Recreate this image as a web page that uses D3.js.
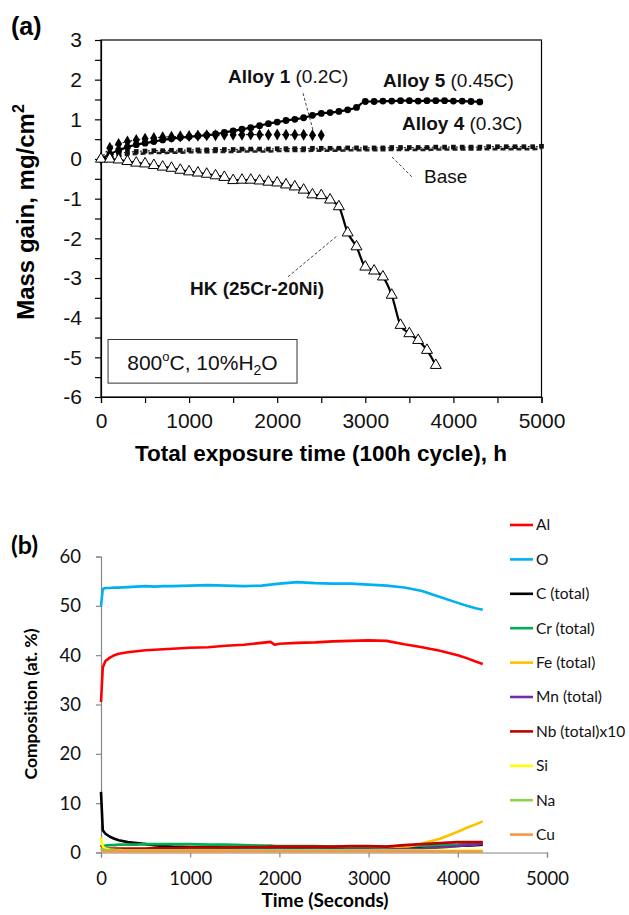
<!DOCTYPE html>
<html>
<head>
<meta charset="utf-8">
<script src="https://cdn.jsdelivr.net/npm/d3@7"></script>
<style>
  body { margin: 0; background: #fff; }
  svg { display: block; }
  .ta text { font-family: "Liberation Sans", Arial, sans-serif; }
  .tb text { font-family: Lato, "Open Sans", sans-serif; }
</style>
</head>
<body>
<script>
// ---- (a) mass gain data, every 100 h cycle ----
const hk = [0, 0, -0.02, -0.06, -0.1, -0.12, -0.16, -0.2, -0.23, -0.28,
  -0.32, -0.35, -0.38, -0.42, -0.46, -0.54, -0.53, -0.53, -0.55, -0.58,
  -0.6, -0.65, -0.7, -0.78, -0.9, -0.92, -1.03, -1.2, -1.86, -2.21,
  -2.72, -2.82, -2.97, -3.43, -4.19, -4.4, -4.57, -4.82, -5.2];
const alloy5 = [0, 0.12, 0.22, 0.3, 0.36, 0.4, 0.44, 0.48, 0.51, 0.54,
  0.56, 0.58, 0.6, 0.63, 0.67, 0.71, 0.75, 0.79, 0.84, 0.89,
  0.93, 0.97, 1.0, 1.04, 1.1, 1.15, 1.17, 1.2, 1.24, 1.3,
  1.45, 1.45, 1.46, 1.46, 1.47, 1.47, 1.46, 1.47, 1.47, 1.47,
  1.46, 1.46, 1.45, 1.44];
const alloy1 = [0, 0.28, 0.38, 0.44, 0.48, 0.51, 0.53, 0.55, 0.56, 0.57,
  0.58, 0.59, 0.6, 0.6, 0.61, 0.61, 0.61, 0.62, 0.61, 0.61,
  0.62, 0.61, 0.61, 0.61, 0.6, 0.6];
const alloy4 = [0, 0.1, 0.14, 0.17, 0.19, 0.2, 0.21, 0.21, 0.22, 0.22,
  0.23, 0.23, 0.23, 0.24, 0.24, 0.24, 0.25, 0.25, 0.25, 0.25,
  0.26, 0.26, 0.26, 0.26, 0.27, 0.27, 0.27, 0.27, 0.28, 0.28,
  0.28, 0.28, 0.28, 0.29, 0.29, 0.29, 0.29, 0.29, 0.3, 0.3,
  0.3, 0.3, 0.3, 0.3, 0.31, 0.31, 0.31, 0.31, 0.31, 0.31, 0.32];
const base = [0, 0.04, 0.08, 0.11, 0.13, 0.14, 0.15, 0.15, 0.16, 0.16,
  0.17, 0.17, 0.17, 0.18, 0.18, 0.18, 0.19, 0.19, 0.19, 0.19,
  0.2, 0.2, 0.2, 0.2, 0.21, 0.21, 0.21, 0.21, 0.22, 0.22,
  0.22, 0.22, 0.22, 0.23, 0.23, 0.23, 0.23, 0.23, 0.24, 0.24,
  0.24, 0.24, 0.24, 0.24, 0.25, 0.25, 0.25, 0.25, 0.25, 0.25, 0.26];

// ---- (b) depth profile data ----
const timeB = [0, 20, 50, 100, 150, 200, 300, 400, 500, 600, 700, 800, 1000,
  1200, 1400, 1600, 1800, 1900, 1950, 2000, 2200, 2400, 2600, 2800, 3000,
  3200, 3400, 3600, 3800, 4000, 4100, 4200, 4280];
const elemNames = ["Al", "O", "C (total)", "Cr (total)", "Fe (total)",
  "Mn (total)", "Nb (total)x10", "Si", "Na", "Cu"];
const elemColors = ["#ff0000", "#00b0f0", "#000000", "#00b050", "#ffc000",
  "#7030a0", "#c00000", "#ffff00", "#92d050", "#f79646"];
const al = [30.5, 37.5, 38.8, 39.5, 40, 40.3, 40.6, 40.8, 41, 41.1, 41.2, 41.3, 41.5,
  41.6, 41.9, 42.1, 42.5, 42.7, 42.1, 42.3, 42.5, 42.6, 42.8, 42.9, 43,
  42.9, 42.2, 41.6, 40.9, 40.0, 39.4, 38.7, 38.2];
const ox = [50, 53.4, 53.6, 53.6, 53.7, 53.7, 53.8, 53.9, 54, 53.9, 54, 54, 54.1,
  54.2, 54.1, 54, 54.1, 54.3, 54.4, 54.5, 54.8, 54.6, 54.5, 54.5, 54.3,
  54.1, 53.7, 53.0, 51.8, 50.6, 50.0, 49.5, 49.2];
const carbon = [12.3, 4.5, 3.8, 3.2, 2.8, 2.5, 2.1, 1.9, 1.7, 1.5, 1.3, 1.2, 1.1,
  1.1, 1.0, 1.0, 1.0, 1.0, 1.0, 1.0, 1.0, 1.0, 1.0, 1.0, 1.0,
  1.0, 1.1, 1.2, 1.3, 1.4, 1.4, 1.5, 1.6];
const cr = [1.0, 1.2, 1.4, 1.5, 1.5, 1.6, 1.6, 1.6, 1.7, 1.7, 1.7, 1.7, 1.7,
  1.6, 1.6, 1.5, 1.4, 1.4, 1.3, 1.3, 1.3, 1.3, 1.2, 1.2, 1.2,
  1.2, 1.3, 1.4, 1.5, 1.6, 1.7, 1.8, 1.9];
const fe = [0.5, 0.6, 0.5, 0.4, 0.4, 0.4, 0.4, 0.4, 0.4, 0.4, 0.4, 0.4, 0.4,
  0.4, 0.4, 0.4, 0.4, 0.4, 0.4, 0.4, 0.4, 0.4, 0.4, 0.5, 0.5,
  0.7, 1.0, 1.8, 2.8, 4.2, 5.0, 5.7, 6.3];
const mn = [0.5, 0.6, 0.6, 0.6, 0.6, 0.6, 0.6, 0.6, 0.6, 0.6, 0.6, 0.6, 0.6,
  0.6, 0.6, 0.6, 0.6, 0.5, 0.6, 0.6, 0.5, 0.6, 0.5, 0.6, 0.6,
  0.6, 0.7, 0.8, 1.0, 1.3, 1.5, 1.6, 1.8];
const nb = [1.5, 1.0, 0.8, 0.8, 0.8, 0.8, 0.8, 0.8, 0.8, 0.9, 0.9, 0.9, 1.0,
  1.0, 1.0, 1.1, 1.1, 1.2, 1.2, 1.2, 1.2, 1.2, 1.2, 1.3, 1.3,
  1.2, 1.5, 1.7, 1.9, 2.1, 2.1, 2.1, 2.1];
const si = [3.0, 1.2, 0.8, 0.6, 0.5, 0.5, 0.4, 0.4, 0.4, 0.4, 0.4, 0.4, 0.4,
  0.4, 0.4, 0.4, 0.4, 0.4, 0.4, 0.4, 0.4, 0.4, 0.4, 0.4, 0.4,
  0.4, 0.4, 0.4, 0.4, 0.4, 0.4, 0.4, 0.4];
const na = [0.8, 0.6, 0.5, 0.5, 0.5, 0.4, 0.4, 0.4, 0.4, 0.4, 0.4, 0.4, 0.4,
  0.4, 0.4, 0.4, 0.4, 0.4, 0.4, 0.4, 0.4, 0.4, 0.4, 0.4, 0.4,
  0.4, 0.3, 0.3, 0.2, 0.2, 0.2, 0.2, 0.2];
const cu = [0.2, 0.2, 0.2, 0.2, 0.2, 0.2, 0.2, 0.2, 0.2, 0.2, 0.2, 0.2, 0.2,
  0.2, 0.2, 0.2, 0.2, 0.2, 0.2, 0.2, 0.2, 0.2, 0.2, 0.2, 0.2,
  0.2, 0.2, 0.2, 0.2, 0.2, 0.2, 0.2, 0.2];
const elemValues = [al, ox, carbon, cr, fe, mn, nb, si, na, cu];

const W = 629, H = 915;
const svg = d3.select("body").append("svg").attr("width", W).attr("height", H);

// every 100h cycle
function cycles(vals) {
  return vals.map((v, i) => ({x: i * 100, y: v}));
}

/* ========== (a) ========== */
const ga = svg.append("g").attr("class", "ta");
const xA = d3.scaleLinear().domain([0, 5000]).range([101, 541.5]);
const yA = d3.scaleLinear().domain([-6, 3]).range([397, 40]);

ga.append("rect")
  .attr("x", xA(0)).attr("y", yA(3))
  .attr("width", xA(5000) - xA(0)).attr("height", yA(-6) - yA(3))
  .attr("fill", "none").attr("stroke", "#000").attr("stroke-width", 1.2);

const xAxisA = d3.axisBottom(xA)
  .tickValues(d3.range(0, 5001, 500))
  .tickSize(6).tickPadding(10)
  .tickFormat(d => d % 1000 === 0 ? d : "");
ga.append("g").attr("transform", "translate(0," + yA(-6) + ")").call(xAxisA);

const yAxisA = d3.axisLeft(yA)
  .tickValues(d3.range(-6, 3.001, 0.5))
  .tickSize(6).tickPadding(13)
  .tickFormat(d => Number.isInteger(d) ? d : "");
ga.append("g").attr("transform", "translate(" + xA(0) + ",0)").call(yAxisA);

ga.selectAll(".domain, .tick line").attr("stroke", "#000").attr("stroke-width", 1.2);
ga.selectAll(".tick text").attr("font-size", 21).attr("fill", "#111");

// leader lines (data units)
const leaders = [
  [[2293, 1.66], [2406, 0.73]],
  [[3303, 0.05], [3541, -0.48]],
  [[2122, -2.97], [2690, -1.92]]
];
leaders.forEach(l => {
  ga.append("line")
    .attr("x1", xA(l[0][0])).attr("y1", yA(l[0][1]))
    .attr("x2", xA(l[1][0])).attr("y2", yA(l[1][1]))
    .attr("stroke", "#444").attr("stroke-width", 1)
    .attr("stroke-dasharray", "3,2");
});

const lineA = d3.line().x(d => xA(d.x)).y(d => yA(d.y)).curve(d3.curveMonotoneX);

// Base: dashed
ga.append("path").datum(cycles(base)).attr("d", lineA)
  .attr("fill", "none").attr("stroke", "#222").attr("stroke-width", 2.6)
  .attr("stroke-dasharray", "5,3");
// Alloy 4: dotted with small squares
ga.append("path").datum(cycles(alloy4)).attr("d", lineA)
  .attr("fill", "none").attr("stroke", "#222").attr("stroke-width", 1.2)
  .attr("stroke-dasharray", "2,2");
ga.selectAll(".a4").data(cycles(alloy4)).enter().append("path")
  .attr("transform", d => "translate(" + xA(d.x) + "," + yA(d.y) + ")")
  .attr("d", d3.symbol(d3.symbolSquare, 22)).attr("fill", "#111");
// Alloy 1: dotted with diamonds
ga.append("path").datum(cycles(alloy1)).attr("d", lineA)
  .attr("fill", "none").attr("stroke", "#222").attr("stroke-width", 1.2)
  .attr("stroke-dasharray", "2,2");
ga.selectAll(".a1").data(cycles(alloy1)).enter().append("path")
  .attr("transform", d => "translate(" + xA(d.x) + "," + yA(d.y) + ")")
  .attr("d", d3.symbol(d3.symbolDiamond, 42)).attr("fill", "#000");
// Alloy 5: solid with circles
ga.append("path").datum(cycles(alloy5)).attr("d", lineA)
  .attr("fill", "none").attr("stroke", "#000").attr("stroke-width", 2.2);
ga.selectAll(".a5").data(cycles(alloy5)).enter().append("circle")
  .attr("cx", d => xA(d.x)).attr("cy", d => yA(d.y)).attr("r", 3.4)
  .attr("fill", "#000");
// HK: solid with open triangles
ga.append("path").datum(cycles(hk)).attr("d", lineA)
  .attr("fill", "none").attr("stroke", "#000").attr("stroke-width", 2.2);
ga.selectAll(".hk").data(cycles(hk)).enter().append("path")
  .attr("transform", d => "translate(" + xA(d.x) + "," + yA(d.y) + ")")
  .attr("d", d3.symbol(d3.symbolTriangle, 52)).attr("fill", "#fff")
  .attr("stroke", "#000").attr("stroke-width", 1);

// series labels
function seriesLabel(t, v, bold, rest) {
  const tx = ga.append("text").attr("x", xA(t)).attr("y", yA(v))
    .attr("font-size", 19).attr("fill", "#111");
  tx.append("tspan").attr("font-weight", "bold").text(bold);
  if (rest) tx.append("tspan").text(rest);
}
seriesLabel(1441, 1.92, "Alloy 1", " (0.2C)");
seriesLabel(3200, 1.82, "Alloy 5", " (0.45C)");
seriesLabel(3416, 0.72, "Alloy 4", " (0.3C)");
seriesLabel(3666, -0.6, "", "Base");
seriesLabel(1010, -3.43, "HK (25Cr-20Ni)", "");

// condition box
ga.append("rect")
  .attr("x", xA(80)).attr("y", yA(-4.55))
  .attr("width", xA(2225) - xA(80)).attr("height", yA(-5.65) - yA(-4.55))
  .attr("fill", "#fff").attr("stroke", "#333").attr("stroke-width", 1);
const cond = ga.append("text").attr("x", xA(1152)).attr("y", yA(-5.33))
  .attr("text-anchor", "middle").attr("font-size", 21).attr("fill", "#111");
cond.append("tspan").text("800");
cond.append("tspan").attr("font-size", 13).attr("dy", -9).text("o");
cond.append("tspan").attr("dy", 9).text("C, 10%H");
cond.append("tspan").attr("font-size", 14).attr("dy", 5).text("2");
cond.append("tspan").attr("dy", -5).text("O");

// titles
ga.append("text").attr("x", 321).attr("y", 461).attr("text-anchor", "middle")
  .attr("font-size", 22.5).attr("font-weight", "bold")
  .text("Total exposure time (100h cycle), h");
const yt = ga.append("text").attr("transform", "translate(34,212) rotate(-90)")
  .attr("text-anchor", "middle").attr("font-size", 24).attr("font-weight", "bold");
yt.append("tspan").text("Mass gain, mg/cm");
yt.append("tspan").attr("font-size", 16).attr("dy", -10).text("2");
ga.append("text").attr("x", 11).attr("y", 35).attr("font-size", 25)
  .attr("font-weight", "bold").text("(a)");

/* ========== (b) ========== */
const gb = svg.append("g").attr("class", "tb");
const xB = d3.scaleLinear().domain([0, 5000]).range([101, 547]);
const yB = d3.scaleLinear().domain([0, 60]).range([852.5, 556.5]);

gb.append("g").attr("transform", "translate(0," + yB(0) + ")")
  .call(d3.axisBottom(xB).tickValues(d3.range(0, 5001, 1000))
    .tickFormat(d3.format("d")).tickSize(5).tickPadding(14));
gb.append("g").attr("transform", "translate(" + xB(0) + ",0)")
  .call(d3.axisLeft(yB).tickValues(d3.range(0, 61, 10)).tickSize(5).tickPadding(15));
gb.selectAll(".domain, .tick line").attr("stroke", "#868686").attr("stroke-width", 1.2);
gb.selectAll(".tick text").attr("font-size", 18.5).attr("fill", "#111");

const lineB = d3.line().x(d => xB(d.x)).y(d => yB(d.y));
elemValues.forEach((vals, k) => {
  gb.append("path")
    .datum(vals.map((v, i) => ({x: timeB[i], y: v})))
    .attr("d", lineB)
    .attr("fill", "none").attr("stroke", elemColors[k])
    .attr("stroke-width", 2.6).attr("stroke-linejoin", "round");
});

// legend
const leg = gb.append("g");
elemNames.forEach((n, k) => {
  const y = 525 + k * 34.4;
  leg.append("line").attr("x1", 510).attr("x2", 533).attr("y1", y).attr("y2", y)
    .attr("stroke", elemColors[k]).attr("stroke-width", 2.6);
  leg.append("text").attr("x", 536).attr("y", y).attr("dy", "0.35em")
    .attr("font-size", 15.5).attr("fill", "#111").text(n);
});

gb.append("text").attr("x", 325).attr("y", 907).attr("text-anchor", "middle")
  .attr("font-size", 19).attr("font-weight", "bold").text("Time (Seconds)");
gb.append("text").attr("transform", "translate(37,704) rotate(-90)")
  .attr("text-anchor", "middle").attr("font-size", 17.5).attr("font-weight", "bold")
  .text("Composition (at. %)");
gb.append("text").attr("x", 11).attr("y", 554).attr("font-size", 25)
  .attr("font-weight", "bold").text("(b)");
</script>
</body>
</html>
